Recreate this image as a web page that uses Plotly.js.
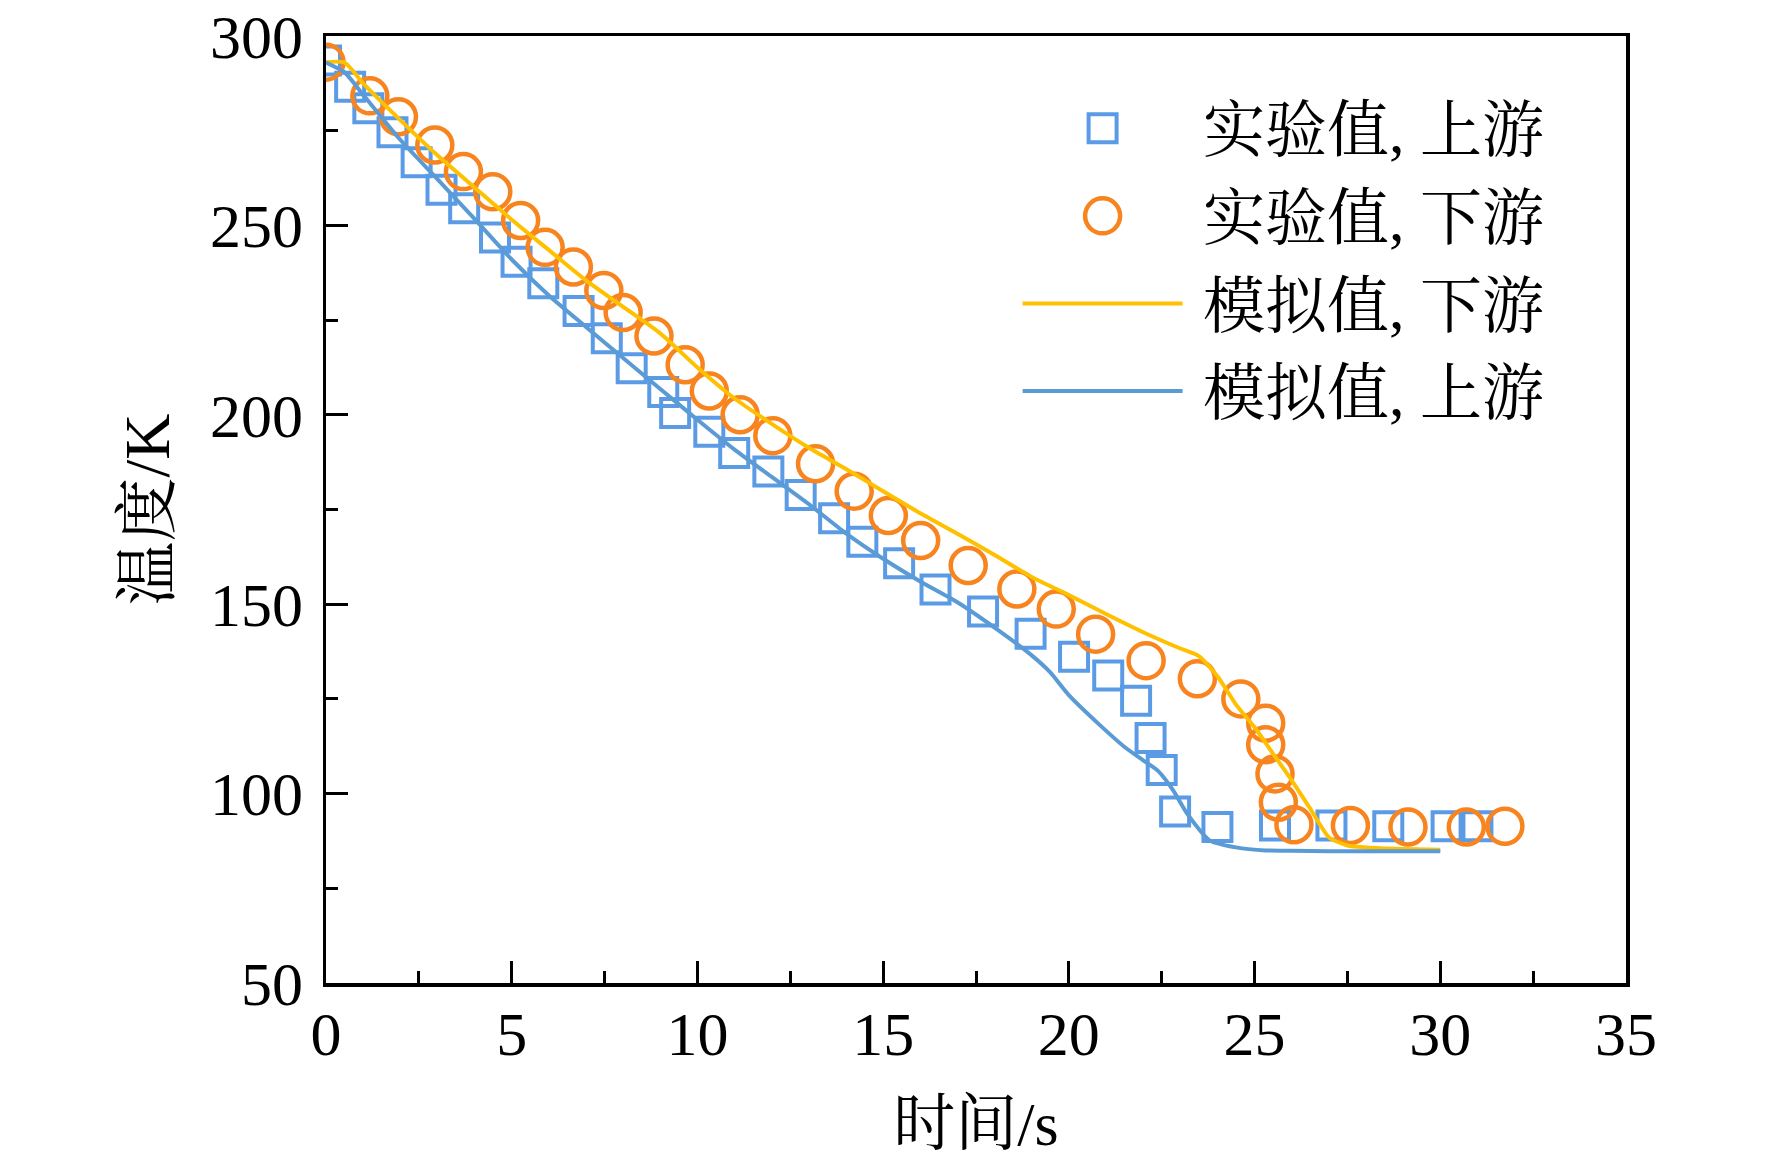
<!DOCTYPE html>
<html>
<head>
<meta charset="utf-8">
<script src="https://cdn.plot.ly/plotly-3.0.1.min.js"></script>
<style>
  html, body { margin: 0; padding: 0; background: #fff; }
  #chart { width: 1772px; height: 1159px; }
</style>
</head>
<body>
<div id="chart"></div>
<script>
// experimental, upstream (squares)
var upExpT = [0, 0.65, 1.14, 1.79, 2.44, 3.11, 3.72, 4.55, 5.13, 5.85, 6.80, 7.56, 8.23, 9.08, 9.40,
    10.32, 10.99, 11.91, 12.78, 13.68, 14.44, 15.43, 16.41, 17.69, 18.97, 20.14, 21.06, 21.81,
    22.20, 22.50, 22.86, 24.0, 25.55, 27.07, 28.6, 30.17, 31.0];
var upExpK = [293.5, 286.6, 280.9, 274.6, 266.7, 259.4, 254.5, 246.8, 240.4, 234.7, 227.4, 220.2, 212.3, 206, 200.5,
    195.5, 189.9, 185.0, 178.8, 172.7, 166.5, 160.8, 153.9, 148.1, 142.2, 136.1, 131.2, 124.5,
    114.7, 106.2, 95.3, 91.2, 91.6, 91.6, 91.4, 91.4, 91.4];

// experimental, downstream (circles)
var downExpT = [0, 1.18, 1.95, 2.93, 3.70, 4.49, 5.24, 5.90, 6.66, 7.48, 8.0, 8.83, 9.67, 10.32,
    11.15, 12.03, 13.18, 14.22, 15.14, 16.01, 17.29, 18.6, 19.66, 20.72, 22.08, 23.46, 24.63,
    25.30, 25.30, 25.55, 25.64, 26.06, 27.58, 29.13, 30.7, 31.74];
var downExpK = [293.1, 284.2, 278.7, 271.2, 264.2, 258.9, 251.3, 244.2, 239.0, 232.8, 227.0, 220.8, 213.2, 206.3,
    200.0, 194.5, 187.1, 179.8, 173.4, 166.8, 160.2, 154.0, 148.7, 142.1, 135.1, 130.3, 125.0,
    118.6, 112.9, 105.2, 97.7, 91.8, 91.6, 91.2, 91.2, 91.4];

// simulation, downstream
var downSimT = [0, 0.5, 1, 2, 3, 4, 5, 6, 7, 8, 9, 10, 11, 12, 13, 14, 15, 16, 17, 18, 19, 20,
    21, 22, 23, 23.5, 24, 24.5, 25, 25.5, 26, 26.5, 27, 27.5, 28, 29, 30];
var downSimK = [293.1, 293, 287.5, 277.8, 268.5, 260, 251.5, 243.5, 235.5, 228.5, 221.5, 212.5, 204.3,
    197.6, 191.3, 185.7, 179.8, 174, 168.6, 163, 157.2, 152.4, 147.4, 142.6, 138.3, 136.3, 131,
    123.5, 117.5, 110.5, 103.5, 96, 88.5, 86.3, 85.8, 85.4, 85.2];

// simulation, upstream
var upSimT = [0, 0.5, 1, 2, 3, 4, 5, 6, 7, 8, 9, 10, 11, 12, 13, 14, 15, 16, 17, 18, 19, 19.5,
    20, 20.8, 21.5, 22, 22.4, 22.8, 23.2, 23.8, 24.5, 25.3, 26, 27, 28, 29, 30];
var upSimK = [293, 290.4, 284.5, 272.6, 262.2, 251.7, 241, 231.5, 223.2, 215, 206.8, 198.7, 190.8,
    183.6, 176.4, 168.7, 162, 156, 150.5, 143.8, 136.5, 132, 126, 118.4, 112.3, 108.8, 106, 101,
    94.5, 87.6, 85.8, 85.0, 84.9, 84.8, 84.8, 84.8, 84.8];

var names = ['\u00a0实验值, 上游', '\u00a0实验值, 下游', '\u00a0模拟值, 下游', '\u00a0模拟值, 上游'];

var serif = 'Liberation Serif, Noto Serif CJK SC, Noto Sans CJK SC, serif';

var squareSize = 28, circleSize = 35;

var trace1 = {
    type: 'scatter', mode: 'markers', name: names[0], legendgroup: 'a',
    x: upExpT, y: upExpK,
    marker: {symbol: 'square-open', size: squareSize, color: '#5b9be6', line: {width: 4, color: '#5b9be6'}}
};
var trace2 = {
    type: 'scatter', mode: 'markers', name: names[1], legendgroup: 'b',
    x: downExpT, y: downExpK,
    marker: {symbol: 'circle-open', size: circleSize, color: '#f7841e', line: {width: 4.5, color: '#f7841e'}}
};
var trace3 = {
    type: 'scatter', mode: 'lines', name: names[2], legendgroup: 'c',
    x: downSimT, y: downSimK,
    line: {color: '#ffc000', width: 4, shape: 'spline', smoothing: 0.6}
};
var trace4 = {
    type: 'scatter', mode: 'lines', name: names[3], legendgroup: 'd',
    x: upSimT, y: upSimK,
    line: {color: '#5b9bd5', width: 4, shape: 'spline', smoothing: 0.6}
};

var axisBase = {
    showgrid: false, zeroline: false,
    showline: true, linecolor: '#000', linewidth: 3.5, mirror: true,
    ticks: 'inside', ticklen: 22, tickwidth: 3, tickcolor: '#000',
    tickfont: {family: serif, size: 62, color: '#000'}
};

var layout = {
    width: 1772, height: 1159,
    margin: {l: 326, r: 146, t: 36, b: 176, pad: 0},
    paper_bgcolor: '#fff', plot_bgcolor: '#fff',
    font: {family: serif, color: '#000'},
    xaxis: Object.assign({}, axisBase, {
        range: [0, 35], tick0: 0, dtick: 5,
        ticklabelstandoff: -6,
        minor: {ticks: 'inside', ticklen: 12, tickwidth: 3, tickcolor: '#000', dtick: 2.5},
        title: {text: '时间/s', font: {family: serif, size: 62, color: '#000'}, standoff: 35}
    }),
    yaxis: Object.assign({}, axisBase, {
        range: [50, 300], tick0: 50, dtick: 50,
        ticklabelstandoff: 7,
        minor: {ticks: 'inside', ticklen: 12, tickwidth: 3, tickcolor: '#000', dtick: 25},
        title: {text: '温度/K', font: {family: serif, size: 64, color: '#000'}, standoff: 20}
    }),
    showlegend: true,
    legend: {
        x: 0.532, y: 0.952, xanchor: 'left', yanchor: 'top',
        bgcolor: 'rgba(0,0,0,0)', borderwidth: 0,
        font: {family: serif, size: 62, color: '#000'},
        traceorder: 'grouped', tracegroupgap: 4,
        itemwidth: 160
    }
};

// legend markers are capped at 16px by plotly, scale them up to match the plot markers
var legendScale = [squareSize / 16, circleSize / 16];
var legendStroke = [4, 4.5];

Plotly.newPlot('chart', [trace1, trace2, trace3, trace4], layout, {displayModeBar: false, staticPlot: true})
    .then(function (gd) {
        var groups = gd.querySelectorAll('.legend .traces');
        groups.forEach(function (g, i) {
            if (i > 1) return;
            g.querySelectorAll('.legendpoints path.scatterpts').forEach(function (p) {
                var tr = p.getAttribute('transform') || '';
                p.setAttribute('transform', tr + ' scale(' + legendScale[i] + ')');
                p.style.strokeWidth = (legendStroke[i] / legendScale[i]) + 'px';
            });
        });
    });
</script>
</body>
</html>
